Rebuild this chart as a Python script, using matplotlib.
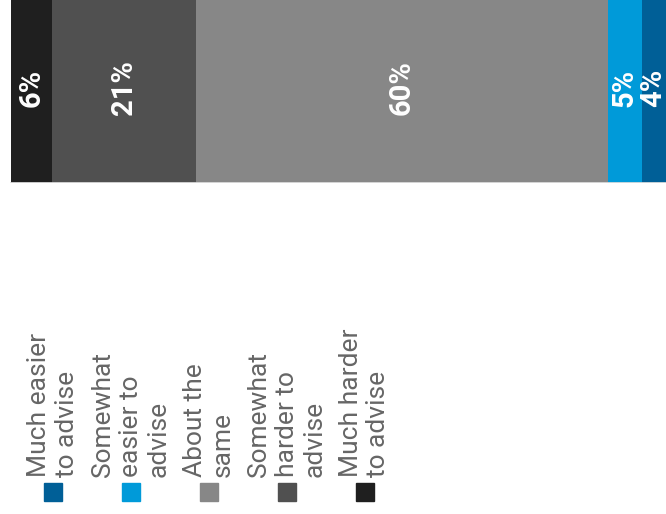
import matplotlib.pyplot as plt
from matplotlib.patches import Rectangle

# data, stacked left to right as in the picture
categories = ["Much harder\nto advise", "Somewhat\nharder to\nadvise", "About the\nsame",
              "Somewhat\neasier to\nadvise", "Much easier\nto advise"]
values = [6, 21, 60, 5, 4]
colors = ["#1f1f1f", "#505050", "#878787", "#009ad9", "#005f97"]
value_labels = ["6%", "21%", "60%", "5%", "4%"]

plt.rcParams['font.family'] = ['Roboto', 'DejaVu Sans']

W, H = 666, 514
fig = plt.figure(figsize=(W / 100, H / 100), dpi=100)

# the bar (drawn sideways, text rotated)
ax = fig.add_axes([0, 1 - 183 / H, 1, 183 / H])
xmax = 95.5
left = 0
for v, c, lab in zip(values, colors, value_labels):
    ax.barh(0, v, left=left, height=1, color=c, edgecolor='none')
    # keep the last label inside the visible area
    xc = min(left + v / 2, xmax - 1.9)
    ax.text(xc, 0.02, lab, rotation=90, ha='center', va='center',
            color='white', fontsize=21, fontweight='semibold')
    left += v
ax.axhline(-0.5, xmin=0.016, xmax=1, color='#dddddd', lw=2)
ax.set_xlim(-1.54, xmax)
ax.set_ylim(-0.5, 0.5)
ax.axis('off')

# legend, drawn in pixel coordinates
lg = fig.add_axes([0, 0, 1, 1], zorder=-1)
lg.set_xlim(0, W)
lg.set_ylim(H, 0)
lg.axis('off')
centers = [53, 131, 208.5, 286.5, 364.5]
for cx, lab, c in zip(centers, categories[::-1], colors[::-1]):
    lg.add_patch(Rectangle((cx - 9, 483), 18, 18, color=c))
    lg.text(cx, 477, lab, rotation=90, ha='center', va='bottom',
            multialignment='left', fontsize=19, color='#666666', linespacing=1.2)

fig.savefig('out.png', dpi=100)
